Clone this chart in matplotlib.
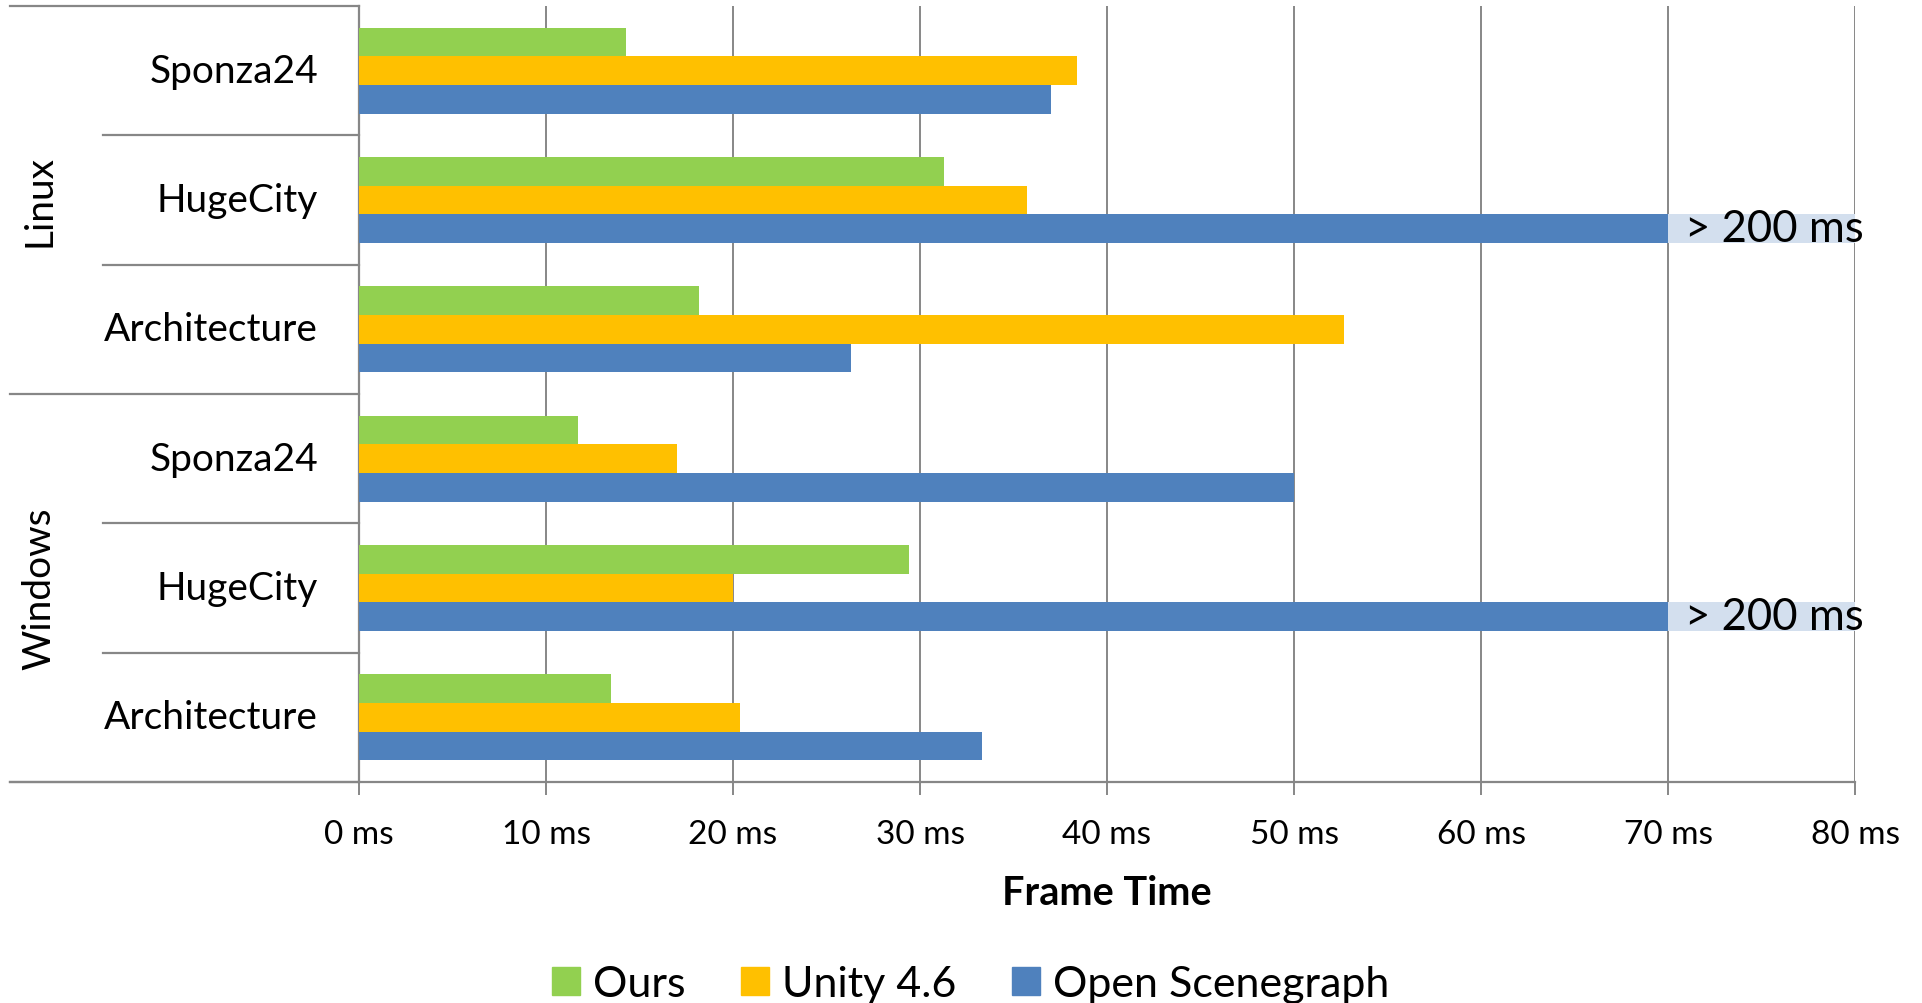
import numpy as np
import matplotlib
matplotlib.use('Agg')
import matplotlib.pyplot as plt
from matplotlib.patches import Patch

plt.rcParams['font.family'] = ['Lato', 'DejaVu Sans']

# Data (top to bottom)
groups = ['Linux', 'Windows']
scenes = ['Sponza24', 'HugeCity', 'Architecture']
ours = [14.3, 31.3, 18.2, 11.7, 29.4, 13.5]
unity = [38.4, 35.7, 52.7, 17.0, 20.0, 20.4]
osg = [37.0, 200.0, 26.3, 50.0, 200.0, 33.3]   # 200 = "> 200 ms"
series = ['Ours', 'Unity 4.6', 'Open Scenegraph']
xticks = [0, 10, 20, 30, 40, 50, 60, 70, 80]
xtick_labels = ['%d ms' % t for t in xticks]

cut = 70      # bars beyond the axis are cut here
xmax = 80

colors = ['#92D050', '#FFC000', '#4F81BD']
grid_col = '#878787'

fig = plt.figure(figsize=(19.22, 10.04), dpi=100)
ax = fig.add_axes([359 / 1922, 1 - 783 / 1004, 1496 / 1922, 776 / 1004])

labels = scenes * len(groups)
y = np.arange(len(labels))
h = 1 / 4.5

vals_osg = np.array(osg)
ax.barh(y - h, ours, height=h, color=colors[0], zorder=3)
ax.barh(y, unity, height=h, color=colors[1], zorder=3)
ax.barh(y + h, np.minimum(vals_osg, cut), height=h, color=colors[2], zorder=3)

# broken bars: light box with label
for yi, v in zip(y, vals_osg):
    if v > xmax:
        ax.barh(yi + h, xmax - cut, left=cut, height=h, color='#D3DFEE', zorder=4, clip_on=False)
        ax.text(cut + 0.9, yi + h, '> %d ms' % v, va='center', ha='left', fontsize=31.5, zorder=5)

ax.set_xlim(0, xmax)
ax.set_ylim(len(labels) - 0.5, -0.5)
ax.set_xticks(xticks)
ax.set_xticklabels(xtick_labels, fontsize=24)
ax.tick_params(axis='x', direction='out', length=9, width=1.4, color=grid_col, pad=18)
ax.set_yticks([])
ax.grid(axis='x', color=grid_col, linewidth=1.4, zorder=0)
ax.set_axisbelow(True)

for s in ['top', 'right']:
    ax.spines[s].set_visible(False)
for s in ['left', 'bottom']:
    ax.spines[s].set_color(grid_col)
    ax.spines[s].set_linewidth(1.6)

# category labels and separators
tr = ax.get_yaxis_transform()
for yi, lab in zip(y, labels):
    ax.text(-0.0274, yi, lab, transform=tr, ha='right', va='center', fontsize=28)
for k in range(len(labels) + 1):
    yb = k - 0.5
    x0 = -0.2333 if k % len(scenes) == 0 else -0.1711
    ax.plot([x0, 0], [yb, yb], transform=tr, color=grid_col, lw=1.6, clip_on=False)
ax.plot([-0.2333, 0], [len(labels) - 0.5] * 2, transform=tr, color=grid_col, lw=1.6, clip_on=False)

for gi, g in enumerate(groups):
    yc = gi * len(scenes) + (len(scenes) - 1) / 2
    ax.text(-0.2139, yc, g, transform=tr, rotation=90, ha='center', va='center', fontsize=28)

ax.set_xlabel('Frame Time', fontsize=28.5, fontweight='bold')
ax.xaxis.set_label_coords(0.5, -0.142)
ax.xaxis.label.set_va('center')

handles = [Patch(color=c) for c in colors]
fig.legend(handles, series, loc='center', bbox_to_anchor=(0.505, 1 - 985 / 1004), ncol=3,
           frameon=False, fontsize=31, handlelength=0.65, handleheight=0.65,
           handletextpad=0.3, columnspacing=1.3)

fig.savefig('out.png', dpi=100)
